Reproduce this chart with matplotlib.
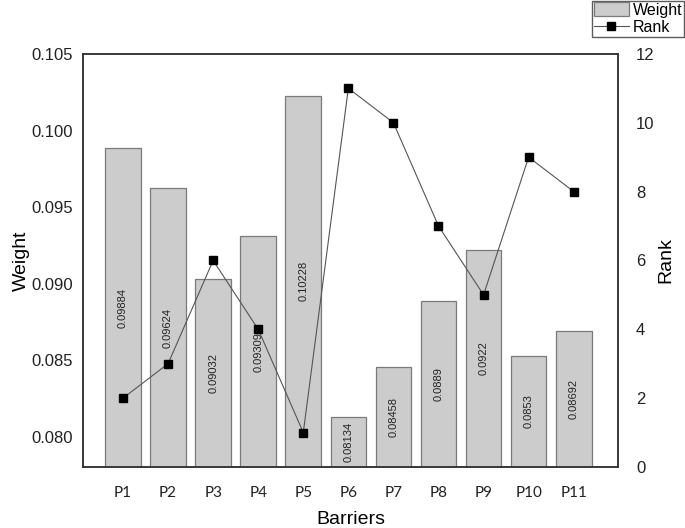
import matplotlib
matplotlib.use("Agg")
import matplotlib.pyplot as plt
from matplotlib.patches import Patch
from matplotlib.lines import Line2D

categories = ["P1", "P2", "P3", "P4", "P5", "P6", "P7", "P8", "P9", "P10", "P11"]
weights = [0.09884, 0.09624, 0.09032, 0.09309, 0.10228, 0.08134, 0.08458, 0.0889, 0.0922, 0.0853, 0.08692]
weight_labels = ["0.09884", "0.09624", "0.09032", "0.09309", "0.10228", "0.08134",
                 "0.08458", "0.0889", "0.0922", "0.0853", "0.08692"]
ranks = [2, 3, 6, 4, 1, 11, 10, 7, 5, 9, 8]
left_ticks = [0.080, 0.085, 0.090, 0.095, 0.100, 0.105]
right_ticks = [0, 2, 4, 6, 8, 10, 12]

plt.rcParams["font.family"] = ["Liberation Sans", "DejaVu Sans"]

fig = plt.figure(figsize=(6.85, 5.28), dpi=100)
ax = fig.add_axes([0.121, 0.1155, 0.781, 0.7825])
ax2 = ax.twinx()

ybot = 0.07805
x = list(range(len(categories)))
ax.bar(x, weights, width=0.79, color="#cccccc", edgecolor="#7a7a7a", linewidth=0.9, zorder=2)
for xi, w, lab in zip(x, weights, weight_labels):
    ax.text(xi, (ybot + w) / 2, lab, rotation=90, ha="center", va="center",
            fontsize=8, color="#222222", zorder=3)

ax.set_ylim(ybot, 0.105)
ax.set_xlim(-0.89, 10.98)
ax.set_yticks(left_ticks)
ax.set_yticklabels([f"{t:.3f}" for t in left_ticks])
ax.set_xticks(x)
ax.set_xticklabels(categories, family=["Lato", "DejaVu Sans"], fontsize=11)

ax2.plot(x, ranks, color="#555555", linewidth=0.8, marker="s", markersize=6,
         markerfacecolor="black", markeredgecolor="black", zorder=4)
ax2.set_ylim(0, 12)
ax2.set_yticks(right_ticks)

for a in (ax, ax2):
    for s in a.spines.values():
        s.set_color("#333333")
        s.set_linewidth(1.1)

ax.tick_params(axis="y", length=0, pad=7, labelsize=12, colors="#222222")
ax.tick_params(axis="x", length=0, pad=14, colors="#222222")
ax2.tick_params(axis="y", length=0, pad=13, labelsize=12, colors="#222222")

ax.set_ylabel("Weight", fontsize=14)
ax.yaxis.set_label_coords(-0.099, 0.5)
ax.set_xlabel("Barriers", fontsize=14)
ax.xaxis.set_label_coords(0.5, -0.107)
ax2.set_ylabel("Rank", fontsize=14)
ax2.yaxis.set_label_coords(1.073, 0.5)

handles = [Patch(facecolor="#cccccc", edgecolor="#7a7a7a", linewidth=0.9),
           Line2D([0], [0], color="#555555", linewidth=0.8, marker="s", markersize=6,
                  markerfacecolor="black", markeredgecolor="black")]
leg = fig.legend(handles, ["Weight", "Rank"], loc="upper right", bbox_to_anchor=(0.999, 0.999),
                 fontsize=11.5, frameon=True, fancybox=False, borderpad=0.12, labelspacing=0.12,
                 handlelength=2.2, handleheight=0.95, handletextpad=0.25, borderaxespad=0.0)
leg.get_frame().set_edgecolor("#333333")
leg.get_frame().set_linewidth(1.0)

fig.savefig("out.png", dpi=100)
